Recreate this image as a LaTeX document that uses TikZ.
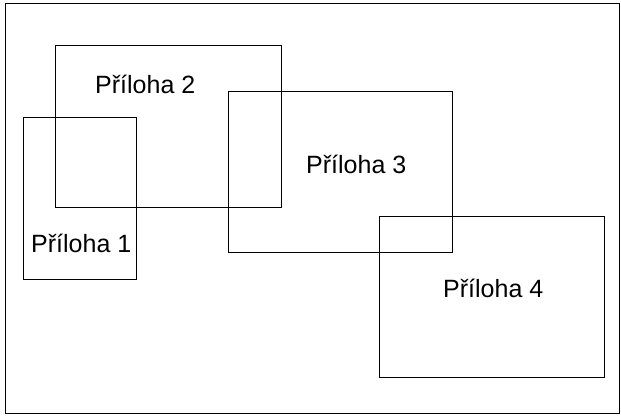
\documentclass[tikz,border=0pt]{standalone}
\usepackage{fontspec}
\setmainfont{Liberation Sans}
\begin{document}
\begin{tikzpicture}[x=1pt,y=-1pt,
  box/.style={draw=black,line width=1pt,inner sep=0pt,outer sep=0pt,anchor=north west},
  lbl/.style={inner sep=0pt,anchor=base west,font=\fontsize{25}{30}\selectfont}]
\useasboundingbox (0,0) rectangle (621,417);
\node[box,minimum width=614pt,minimum height=409pt] (frame) at (5,4) {};
\node[box,minimum width=113pt,minimum height=161pt] (b1) at (23,118) {};
\node[box,minimum width=226pt,minimum height=161pt] (b2) at (55,46) {};
\node[box,minimum width=224pt,minimum height=160pt] (b3) at (228,92) {};
\node[box,minimum width=225pt,minimum height=161pt] (b4) at (379,216) {};
\node[lbl] (t1) at (31,252) {Příloha 1};
\node[lbl] (t2) at (95,94) {Příloha 2};
\node[lbl] (t3) at (306,173) {Příloha 3};
\node[lbl] (t4) at (443,297) {Příloha 4};
\end{tikzpicture}
\end{document}
